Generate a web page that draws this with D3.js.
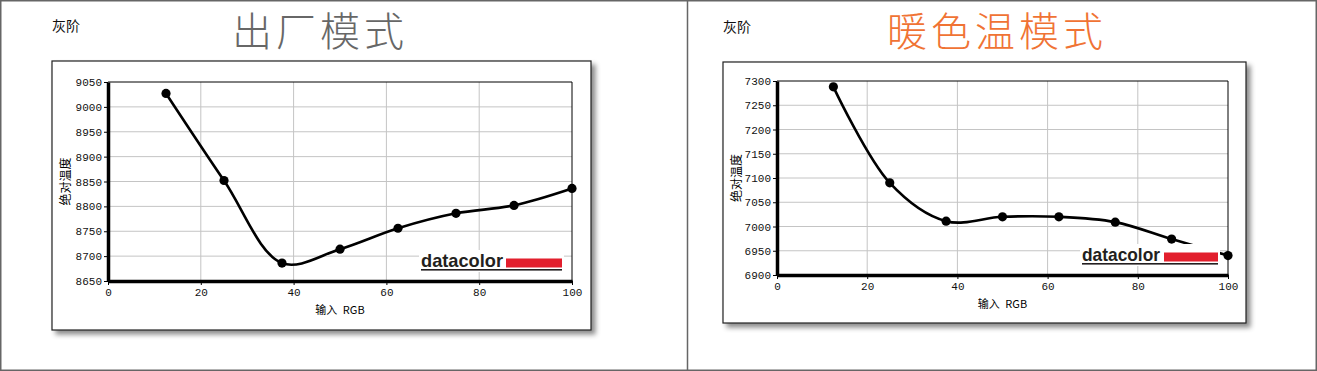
<!DOCTYPE html>
<html>
<head>
<meta charset="utf-8">
<script src="https://cdn.jsdelivr.net/npm/d3@7"></script>
<style>
  body { margin: 0; background: #fff; }
  svg { display: block; }
</style>
</head>
<body>
<div id="chart"></div>
<script>
// grey-scale colour temperature, two modes
var inputRGB = [12.5, 25, 37.5, 50, 62.5, 75, 87.5, 100];
var factoryTemp = [9027, 8852, 8686, 8714, 8756, 8786, 8802, 8836];
var warmTemp = [7288, 7090, 7011, 7020, 7020, 7009, 6974, 6940];
var xTicks = [0, 20, 40, 60, 80, 100];
var factoryTicks = [8650, 8700, 8750, 8800, 8850, 8900, 8950, 9000, 9050];
var warmTicks = [6900, 6950, 7000, 7050, 7100, 7150, 7200, 7250, 7300];
var titles = ["出厂模式", "暖色温模式"];

var W = 1317, H = 371;

var svg = d3.select("#chart").append("svg")
  .attr("width", W)
  .attr("height", H);

// drop shadow for the chart boxes
var defs = svg.append("defs");
var f = defs.append("filter").attr("id", "shadow")
  .attr("x", "-5%").attr("y", "-5%").attr("width", "112%").attr("height", "115%");
f.append("feDropShadow")
  .attr("dx", 4).attr("dy", 4).attr("stdDeviation", 2.5)
  .attr("flood-color", "#000").attr("flood-opacity", 0.45);

// outer frame + divider
svg.append("rect")
  .attr("x", 0.75).attr("y", 0.75)
  .attr("width", W - 1.5).attr("height", H - 1.5)
  .attr("fill", "none").attr("stroke", "#666").attr("stroke-width", 1.5);
svg.append("line")
  .attr("x1", 687.5).attr("x2", 687.5).attr("y1", 0).attr("y2", H)
  .attr("stroke", "#666").attr("stroke-width", 1.5);

var panels = [
  { title: titles[0], titleColor: "#676767", titleX: 320, label: { x: 52, y: 31 },
    box: { x: 52, y: 61, w: 539, h: 269 },
    plot: { left: 108, right: 572, top: 82, bottom: 281 },
    values: factoryTemp, yTicks: factoryTicks,
    logo: { x: 421, y: 267, textW: 82, barX: 506, barW: 56 } },
  { title: titles[1], titleColor: "#f07334", titleX: 997, label: { x: 723, y: 32 },
    box: { x: 723, y: 62, w: 523, h: 261 },
    plot: { left: 777, right: 1228, top: 81, bottom: 275 },
    values: warmTemp, yTicks: warmTicks,
    logo: { x: 1082, y: 261, textW: 78, barX: 1164, barW: 54 } }
];

panels.forEach(function(p) {
  // headings
  svg.append("text")
    .attr("x", p.label.x).attr("y", p.label.y)
    .style("font-family", "'Noto Sans CJK SC'")
    .style("font-size", "14px")
    .style("fill", "#111")
    .text("灰阶");

  svg.append("text")
    .attr("x", p.titleX).attr("y", 46)
    .attr("text-anchor", "middle")
    .style("font-family", "'Noto Sans CJK SC'")
    .style("font-weight", "300")
    .style("font-size", "40px")
    .style("letter-spacing", "4px")
    .style("fill", p.titleColor)
    .text(p.title);

  // chart box
  svg.append("rect")
    .attr("x", p.box.x).attr("y", p.box.y)
    .attr("width", p.box.w).attr("height", p.box.h)
    .attr("fill", "#fff")
    .attr("stroke", "#222").attr("stroke-width", 1.2)
    .attr("filter", "url(#shadow)");

  var x = d3.scaleLinear().domain([0, 100]).range([p.plot.left, p.plot.right]);
  var y = d3.scaleLinear()
    .domain([p.yTicks[0], p.yTicks[p.yTicks.length - 1]])
    .range([p.plot.bottom, p.plot.top]);

  var g = svg.append("g");

  // grid
  g.selectAll(".gx").data(xTicks.slice(1, -1)).enter().append("line")
    .attr("x1", function(d) { return x(d); }).attr("x2", function(d) { return x(d); })
    .attr("y1", p.plot.top).attr("y2", p.plot.bottom)
    .attr("stroke", "#c4c4c4").attr("stroke-width", 1);
  g.selectAll(".gy").data(p.yTicks.slice(1, -1)).enter().append("line")
    .attr("x1", p.plot.left).attr("x2", p.plot.right)
    .attr("y1", function(d) { return y(d); }).attr("y2", function(d) { return y(d); })
    .attr("stroke", "#c4c4c4").attr("stroke-width", 1);

  // top / right frame
  g.append("line")
    .attr("x1", p.plot.left).attr("x2", p.plot.right)
    .attr("y1", p.plot.top).attr("y2", p.plot.top)
    .attr("stroke", "#000").attr("stroke-width", 1);
  g.append("line")
    .attr("x1", p.plot.right).attr("x2", p.plot.right)
    .attr("y1", p.plot.top).attr("y2", p.plot.bottom)
    .attr("stroke", "#000").attr("stroke-width", 1);

  // axes
  var xAxis = g.append("g")
    .attr("transform", "translate(0," + p.plot.bottom + ")")
    .call(d3.axisBottom(x).tickValues(xTicks).tickSize(4).tickSizeOuter(0).tickPadding(3));
  var yAxis = g.append("g")
    .attr("transform", "translate(" + p.plot.left + ",0)")
    .call(d3.axisLeft(y).tickValues(p.yTicks).tickFormat(d3.format("d")).tickSize(4).tickSizeOuter(0).tickPadding(2));

  [xAxis, yAxis].forEach(function(a) {
    a.select(".domain").attr("stroke", "#000").attr("stroke-width", 3.5);
    a.selectAll(".tick line").attr("stroke", "#000");
    a.selectAll(".tick text")
      .style("font-family", "'Liberation Mono'")
      .style("font-size", "11px")
      .style("fill", "#111");
  });

  // axis titles
  g.append("text")
    .attr("x", (p.plot.left + p.plot.right) / 2)
    .attr("y", p.plot.bottom + 33)
    .attr("text-anchor", "middle")
    .style("font-family", "'Noto Sans CJK SC'")
    .style("font-size", "11px")
    .style("word-spacing", "3px")
    .text("输入 RGB");
  g.append("text")
    .attr("transform", "translate(" + (p.box.x + 18) + "," + ((p.plot.top + p.plot.bottom) / 2) + ") rotate(-90)")
    .attr("text-anchor", "middle")
    .style("font-family", "'Noto Sans CJK SC'")
    .style("font-size", "12px")
    .text("绝对温度");

  // curve
  var line = d3.line()
    .x(function(d, i) { return x(inputRGB[i]); })
    .y(function(d) { return y(d); })
    .curve(d3.curveCatmullRom);
  g.append("path")
    .datum(p.values)
    .attr("d", line)
    .attr("fill", "none")
    .attr("stroke", "#000")
    .attr("stroke-width", 2.6);

  // datacolor logo sits on a white patch over the plot
  var lg = g.append("g");
  lg.append("rect")
    .attr("x", p.logo.x - 2).attr("y", p.logo.y - 17)
    .attr("width", p.logo.barX + p.logo.barW - p.logo.x + 4).attr("height", 22)
    .attr("fill", "#fff");
  lg.append("text")
    .attr("x", p.logo.x).attr("y", p.logo.y)
    .attr("textLength", p.logo.textW)
    .attr("lengthAdjust", "spacingAndGlyphs")
    .style("font-family", "'Liberation Sans'")
    .style("font-weight", "bold")
    .style("font-size", "18.5px")
    .style("fill", "#231f20")
    .text("datacolor");
  lg.append("rect")
    .attr("x", p.logo.barX).attr("y", p.logo.y - 8.5)
    .attr("width", p.logo.barW).attr("height", 9)
    .attr("fill", "#e21f2d");
  lg.append("rect")
    .attr("x", p.logo.x).attr("y", p.logo.y + 2)
    .attr("width", p.logo.barX + p.logo.barW - p.logo.x).attr("height", 1.6)
    .attr("fill", "#231f20");

  // markers
  g.selectAll(".pt").data(p.values).enter().append("circle")
    .attr("cx", function(d, i) { return x(inputRGB[i]); })
    .attr("cy", function(d) { return y(d); })
    .attr("r", 4.6)
    .attr("fill", "#000");
});
</script>
</body>
</html>
